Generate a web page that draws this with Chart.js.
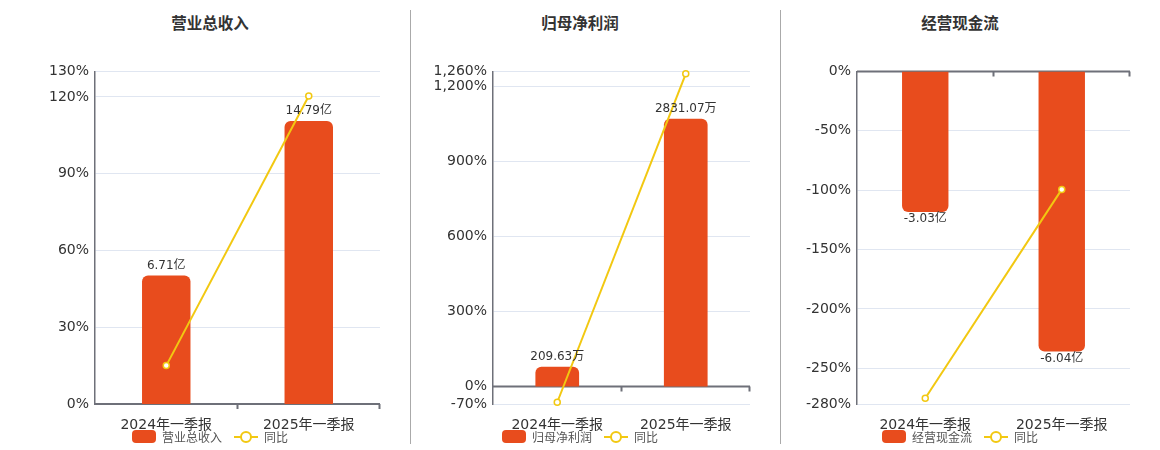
<!DOCTYPE html>
<html>
<head>
<meta charset="utf-8">
<script src="https://cdn.jsdelivr.net/npm/chart.js@4.4.1/dist/chart.umd.min.js"></script>
<style>
  body { margin: 0; width: 1160px; height: 450px; background: #fff; position: relative; overflow: hidden;
         font-family: "DejaVu Sans", "Noto Sans CJK SC", sans-serif; color: #333; }
  .title { position: absolute; top: 11px; width: 300px; margin-left: -150px; text-align: center;
           font-size: 15.5px; font-weight: bold; color: #333; }
  .sep { position: absolute; top: 10px; height: 434px; width: 1px; background: #aaa; }
  .box { position: absolute; top: 57px; height: 390px; }
  .legend { position: absolute; top: 428px; width: 300px; margin-left: -150px; display: flex; justify-content: center;
            align-items: center; font-size: 12px; color: #555; }
  .legend .bar { width: 24px; height: 13px; border-radius: 4px; background: #e84c1d; margin-right: 6px; }
  .legend .ln { position: relative; width: 24px; height: 14px; margin: 0 6px 0 12px; }
  .legend .ln::before { content: ""; position: absolute; left: 0; right: 0; top: 6px; height: 2px; background: #f2c811; }
  .legend .ln::after { content: ""; position: absolute; left: 6px; top: 1px; width: 8px; height: 8px; border: 2px solid #f2c811;
                       border-radius: 50%; background: #fff; }
</style>
</head>
<body>
<div class="sep" style="left:410px"></div>
<div class="sep" style="left:780px"></div>

<div class="title" style="left:210px">营业总收入</div>
<div class="title" style="left:580px">归母净利润</div>
<div class="title" style="left:960px">经营现金流</div>

<div class="box" style="left:0;width:400px"><canvas id="c1"></canvas></div>
<div class="box" style="left:411px;width:360px"><canvas id="c2"></canvas></div>
<div class="box" style="left:781px;width:379px"><canvas id="c3"></canvas></div>

<div class="legend" style="left:210px"><span class="bar"></span>营业总收入<span class="ln"></span>同比</div>
<div class="legend" style="left:580px"><span class="bar"></span>归母净利润<span class="ln"></span>同比</div>
<div class="legend" style="left:960px"><span class="bar"></span>经营现金流<span class="ln"></span>同比</div>

<script>
const categories = ['2024年一季报', '2025年一季报'];

const revenueValues = [6.71, 14.79];
const revenueYoy = [15.0, 120.42];
const revenueTicks = [0, 30, 60, 90, 120, 130];

const profitValues = [209.63, 2831.07];
const profitYoy = [-63, 1250.5];
const profitTicks = [-70, 0, 300, 600, 900, 1200, 1260];

const cashValues = [-3.03, -6.04];
const cashYoy = [-275.2, -99.34];
const cashTicks = [-280, -250, -200, -150, -100, -50, 0];

const BAR_COLOR = '#e84c1d';
const LINE_COLOR = '#f2c811';
const AXIS_COLOR = '#6e7079';
const FONT = '"DejaVu Sans", "Noto Sans CJK SC", sans-serif';

// value labels at the end of each bar
const barLabels = {
  id: 'barLabels',
  afterDatasetsDraw(chart) {
    const ctx = chart.ctx;
    const meta = chart.getDatasetMeta(0);
    const ds = chart.data.datasets[0];
    ctx.save();
    ctx.font = '12px ' + FONT;
    ctx.fillStyle = '#333';
    ctx.textAlign = 'center';
    meta.data.forEach((bar, i) => {
      const v = ds.data[i];
      const txt = v.toFixed(2) + ds.unit;
      if (v >= 0) {
        ctx.textBaseline = 'bottom';
        ctx.fillText(txt, bar.x, bar.y - 4);
      } else {
        ctx.textBaseline = 'top';
        ctx.fillText(txt, bar.x, bar.y + 1);
      }
    });
    ctx.restore();
  }
};

// category axis line drawn through zero with small ticks
const zeroAxis = {
  id: 'zeroAxis',
  beforeDatasetsDraw(chart) {
    const ctx = chart.ctx;
    const x = chart.scales.x;
    const y0 = chart.scales.y.getPixelForValue(0);
    const step = (x.right - x.left) / categories.length;
    ctx.save();
    ctx.strokeStyle = AXIS_COLOR;
    ctx.lineWidth = 2;
    ctx.beginPath();
    ctx.moveTo(x.left, y0);
    ctx.lineTo(x.right, y0);
    for (let i = 1; i <= categories.length; i++) {
      const px = Math.round(x.left + step * i) - 0.5;
      ctx.moveTo(px, y0);
      ctx.lineTo(px, y0 + 5);
    }
    ctx.stroke();
    ctx.restore();
  }
};

function makeChart(id, values, yoy, ticks, unit, barMin, barMax, axisWidth, padRight) {
  return new Chart(document.getElementById(id), {
    data: {
      labels: categories,
      datasets: [{
        type: 'bar',
        data: values,
        unit: unit,
        yAxisID: 'yb',
        backgroundColor: BAR_COLOR,
        borderRadius: 6,
        borderSkipped: 'start',
        categoryPercentage: 1,
        barPercentage: 0.34,
        order: 1
      }, {
        type: 'line',
        data: yoy,
        yAxisID: 'y',
        borderColor: LINE_COLOR,
        borderWidth: 2,
        pointRadius: 3,
        pointBorderWidth: 1.5,
        pointBackgroundColor: '#fff',
        pointBorderColor: LINE_COLOR,
        clip: false,
        order: 0
      }]
    },
    options: {
      responsive: false,
      animation: false,
      devicePixelRatio: 1,
      layout: { padding: { top: 7, right: padRight, bottom: 0, left: 0 } },
      plugins: { legend: { display: false }, tooltip: { enabled: false } },
      scales: {
        x: {
          grid: { display: false },
          border: { display: false },
          ticks: { color: '#333', font: { size: 14, family: FONT }, padding: 5 },
          afterFit(scale) { scale.height = 43; }
        },
        y: {
          min: ticks[0],
          max: ticks[ticks.length - 1],
          afterBuildTicks(scale) { scale.ticks = ticks.map(v => ({ value: v })); },
          grid: { color: '#e0e6f1', drawTicks: false },
          border: { color: AXIS_COLOR, width: 1.5 },
          ticks: {
            autoSkip: false,
            padding: 6,
            color: '#333',
            font: { size: 14, family: FONT },
            callback: v => v.toLocaleString('en-US') + '%'
          },
          afterFit(scale) { scale.width = axisWidth; }
        },
        yb: {
          display: false,
          min: barMin,
          max: barMax
        }
      }
    },
    plugins: [zeroAxis, barLabels]
  });
}

function sizeCanvas(id, w, h) {
  const c = document.getElementById(id);
  c.width = w; c.height = h;
  c.style.width = w + 'px'; c.style.height = h + 'px';
}
sizeCanvas('c1', 400, 390);
sizeCanvas('c2', 360, 390);
sizeCanvas('c3', 379, 390);

makeChart('c1', revenueValues, revenueYoy, revenueTicks, '亿', 0, 17.38, 95, 20);
makeChart('c2', profitValues, profitYoy, profitTicks, '万', -185, 3331, 82, 21);
makeChart('c3', cashValues, cashYoy, cashTicks, '亿', -7.17, 0, 76, 30);
</script>
</body>
</html>
